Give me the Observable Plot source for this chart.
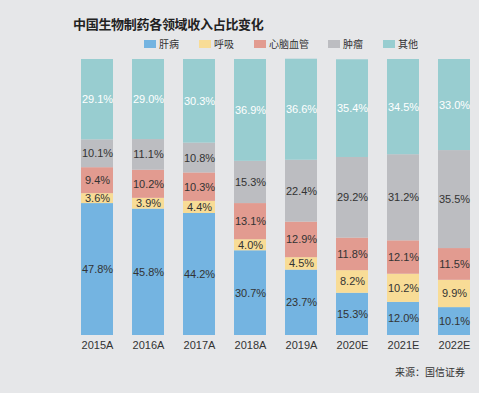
<!DOCTYPE html>
<html><head><meta charset="utf-8">
<script src="https://cdn.jsdelivr.net/npm/d3@7"></script>
<script src="https://cdn.jsdelivr.net/npm/@observablehq/plot@0.6"></script>
<style>
body{margin:0;background:#e6e7e9;font-family:"Liberation Sans",Arial,"Noto Sans CJK SC",sans-serif;}
#wrap{position:relative;width:479px;height:393px;overflow:hidden;background:#e6e7e9;}
#title{position:absolute;left:73px;top:14px;font-size:13px;font-weight:bold;color:#222;font-family:"Noto Sans CJK SC",sans-serif;letter-spacing:-0.3px;}
#legend{position:absolute;left:144px;top:37px;font-size:10px;color:#333;font-family:"Noto Sans CJK SC",sans-serif;}
#legend span.item{position:absolute;white-space:nowrap;line-height:14px;}
#legend i{display:inline-block;width:12px;height:8px;margin-right:3px;vertical-align:-0px;}
#source{position:absolute;right:14px;top:364px;font-size:10px;color:#333;font-family:"Noto Sans CJK SC",sans-serif;}
#chart{position:absolute;left:0;top:0;}
</style></head>
<body>
<div id="wrap">
<div id="chart"></div>
<div id="title">中国生物制药各领域收入占比变化</div>
<div id="legend"></div>
<div id="source">来源：国信证券</div>
</div>
<script>
const years = ["2015A","2016A","2017A","2018A","2019A","2020E","2021E","2022E"];
const categories = ["肝病","呼吸","心脑血管","肿瘤","其他"];
const colors = ["#74b4e1","#f8dc96","#e29b90","#bcbdc1","#98cdd0"];
const liver = [47.8,45.8,44.2,30.7,23.7,15.3,12.0,10.1];
const resp = [3.6,3.9,4.4,4.0,4.5,8.2,10.2,9.9];
const cardio = [9.4,10.2,10.3,13.1,12.9,11.8,12.1,11.5];
const tumor = [10.1,11.1,10.8,15.3,22.4,29.2,31.2,35.5];
const other = [29.1,29.0,30.3,36.9,36.6,35.4,34.5,33.0];
const series = [liver,resp,cardio,tumor,other];

const data = [];
years.forEach((yr,i)=>{
  categories.forEach((c,j)=>{
    data.push({year:yr, cat:c, value:series[j][i]});
  });
});

const legendOffsets = [0,55,110,184,239];
const leg = document.getElementById("legend");
categories.forEach((c,j)=>{
  const s = document.createElement("span");
  s.className="item";
  s.style.left = legendOffsets[j]+"px";
  s.innerHTML = `<i style="background:${colors[j]}"></i>${c}`;
  leg.appendChild(s);
});

const chart = Plot.plot({
  width:479, height:393,
  marginLeft:76, marginRight:3, marginTop:59, marginBottom:58,
  style:{background:"transparent", fontFamily:"Liberation Sans, Arial, sans-serif"},
  x:{domain:years, paddingInner:0.37, paddingOuter:0.1, label:null, tickSize:0, tickPadding:6},
  y:{domain:[0,100], axis:null},
  color:{domain:categories, range:colors},
  marks:[
    Plot.barY(data, Plot.stackY({x:"year", y:"value", fill:"cat", order:null})),
    Plot.text(data, Plot.stackY({x:"year", y:"value", order:null,
      text:d=>d.value.toFixed(1)+"%",
      fill:d=>d.cat==="其他" ? "#ffffff" : "#333333",
      fontSize:11})),
    Plot.axisX({tickSize:0, tickPadding:6, fontSize:11, fill:"#333", label:null})
  ]
});
document.getElementById("chart").appendChild(chart);
</script>
</body></html>
